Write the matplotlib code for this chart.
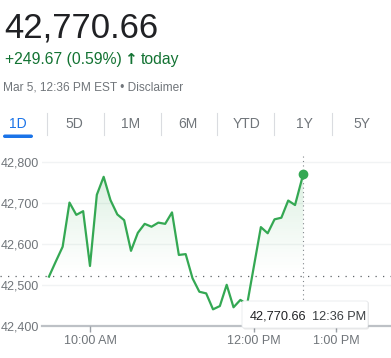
import matplotlib
matplotlib.use("Agg")
import matplotlib.pyplot as plt
import numpy as np
from matplotlib.patches import FancyBboxPatch
from matplotlib.path import Path
from matplotlib.lines import Line2D
import matplotlib.transforms as mtransforms

plt.rcParams['font.family'] = ['Liberation Sans', 'DejaVu Sans']

# minutes after 9:30 AM
minutes = [0, 5, 10, 15, 20, 25, 30, 35, 40, 45, 50, 55, 60, 65, 70, 75, 80, 85, 90,
           95, 100, 105, 110, 115, 120, 125, 130, 135, 140, 145, 150, 155, 160, 165,
           170, 175, 180, 186]
prices = [42520, 42557, 42593, 42701, 42671, 42680, 42546, 42720, 42764, 42707,
          42672, 42658, 42583, 42627, 42649, 42642, 42652, 42649, 42677, 42573,
          42575, 42516, 42483, 42479, 42440, 42448, 42500, 42445, 42463, 42453,
          42547, 42641, 42626, 42660, 42664, 42706, 42695, 42770.66]
prev_close = 42520.99
last_price = "42,770.66"
change_txt = "+249.67 (0.59%)"
stamp_txt = "Mar 5, 12:36 PM EST \u2022 Disclaimer"
tabs = ["1D", "5D", "1M", "6M", "YTD", "1Y", "5Y"]
y_ticks = [42400, 42500, 42600, 42700, 42800]
x_ticks = [30, 150, 210]
x_labels = ["10:00 AM", "12:00 PM", "1:00 PM"]

W, H = 391, 358
fig = plt.figure(figsize=(W / 100, H / 100), dpi=100)

def fx(px):
    return px / W

def fy(py):
    return 1 - py / H

green = '#34a853'
gray_txt = '#70757a'

# header
fig.text(fx(4), fy(37), last_price, fontsize=25, color='#202124', va='baseline')
fig.text(fx(5), fy(64), change_txt, fontsize=11.3, color='#137333', va='baseline')
fig.text(fx(124), fy(64), "\u2191", fontsize=11, color='#137333', va='baseline',
         fontweight='bold', family=['DejaVu Sans'])
fig.text(fx(141), fy(64), "today", fontsize=11.3, color='#137333', va='baseline')
fig.text(fx(3), fy(90), stamp_txt, fontsize=8.6, color=gray_txt, va='baseline')

# tabs
tab_x = [18, 74, 131, 188, 247, 304, 362]
for i, (t, x) in enumerate(zip(tabs, tab_x)):
    fig.text(fx(x), fy(124), t, fontsize=10, ha='center', va='center',
             color='#1a73e8' if i == 0 else gray_txt)
for sx in [47, 104, 161, 217, 274, 332]:
    fig.add_artist(Line2D([fx(sx), fx(sx)], [fy(113), fy(135)], color='#dadce0', lw=0.8))
fig.add_artist(FancyBboxPatch((fx(3), fy(138)), fx(30), 3.5 / H,
                              boxstyle="round,pad=0,rounding_size=0.005",
                              fc='#1a73e8', ec='none'))

# chart
ax = fig.add_axes([fx(42), fy(325.7), 1 - fx(42), (325.7 - 153.9) / H])
for s in ax.spines.values():
    s.set_visible(False)
for yv in y_ticks[1:]:
    ax.axhline(yv, color='#f1f3f4', lw=1, zorder=0)
ax.axhline(42400, color='#bdc1c6', lw=1.6, zorder=1, clip_on=False)

ax.set_yticks(y_ticks)
ax.set_yticklabels([f"{v:,}" for v in y_ticks])
ax.tick_params(axis='y', length=0, pad=2, labelsize=9, labelcolor=gray_txt)
ax.set_xticks(x_ticks)
ax.set_xticklabels(x_labels)
ax.tick_params(axis='x', length=4, width=1, color='#9aa0a6', pad=3,
               labelsize=9, labelcolor=gray_txt)

t = np.array(minutes, dtype=float)
v = np.array(prices)

# gradient fill above previous close
verts = [(t[0], prev_close)] + [(a, max(b, prev_close)) for a, b in zip(t, v)] + [(t[-1], prev_close)]
clip = Path(verts)
grad = np.linspace(0, 1, 100)
rgba = np.zeros((100, 1, 4))
rgba[..., 0] = 0x34 / 255
rgba[..., 1] = 0xa8 / 255
rgba[..., 2] = 0x53 / 255
rgba[:, 0, 3] = 0.18 * grad ** 1.2
im = ax.imshow(rgba, extent=[t[0], t[-1], prev_close, max(v)], origin='lower',
               aspect='auto', zorder=1)
im.set_clip_path(clip, ax.transData)
ax.set_xlim(-5.1, 250.2)
ax.set_ylim(42400, 42820)

ax.plot(t, v, color=green, lw=1.6, zorder=3, solid_joinstyle='round')
ax.plot(t[-1], v[-1], 'o', color=green, ms=6, zorder=4)

# previous close dotted line spanning full width
trans = mtransforms.blended_transform_factory(fig.transFigure, ax.transData)
ax.add_line(Line2D([0, 1], [prev_close, prev_close], transform=trans,
                   color='#5f6368', lw=0.9, ls=(0, (1, 5)), clip_on=False, zorder=2))
# current time marker
ax.plot([t[-1], t[-1]], [42400, 42820], color='#80868b', lw=0.8, ls=(0, (1, 3)), zorder=2)

# tooltip
shadow = FancyBboxPatch((fx(243), fy(329.5)), fx(126), 28 / H,
                        boxstyle="round,pad=0,rounding_size=0.006",
                        fc='#00000018', ec='none', zorder=9)
fig.add_artist(shadow)
box = FancyBboxPatch((fx(242), fy(328)), fx(126), 27 / H,
                     boxstyle="round,pad=0,rounding_size=0.006",
                     fc='white', ec='#e8eaed', lw=0.6, zorder=10)
fig.add_artist(box)
fig.text(fx(250), fy(319.5), last_price, fontsize=9.2, color='#202124', va='baseline', zorder=11)
fig.text(fx(312), fy(319.5), "12:36 PM", fontsize=9.2, color='#3c4043', va='baseline', zorder=11)

fig.savefig("out.png", dpi=100)
